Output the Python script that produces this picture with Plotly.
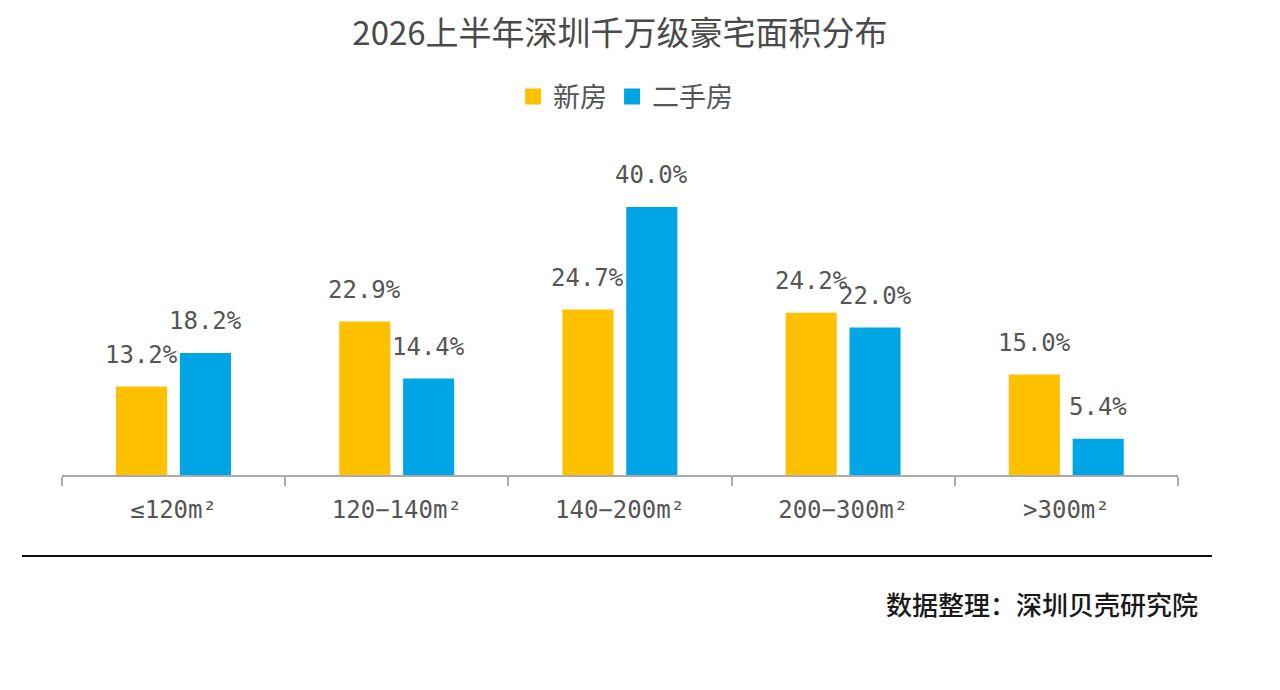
import plotly.graph_objects as go

categories = ["≤120m²", "120−140m²", "140−200m²", "200−300m²", ">300m²"]
new_home = [13.2, 22.9, 24.7, 24.2, 15.0]
second_hand = [18.2, 14.4, 40.0, 22.0, 5.4]
series_names = ["新房", "二手房"]
title_text = "2026上半年深圳千万级豪宅面积分布"
source_text = "数据整理：深圳贝壳研究院"

YELLOW = "#FFC000"
BLUE = "#00A5E6"
GREY = "#555555"
LABEL_FONT = "DejaVu Sans Mono"
CJK = "Noto Sans CJK SC"

BAR_W = 0.229
OFF_NEW = -0.258
OFF_OLD = 0.028

fig = go.Figure()
fig.add_trace(go.Bar(x=categories, y=new_home, name=series_names[0],
                     marker=dict(color=YELLOW, line=dict(width=0)),
                     width=BAR_W, offset=OFF_NEW, showlegend=False))
fig.add_trace(go.Bar(x=categories, y=second_hand, name=series_names[1],
                     marker=dict(color=BLUE, line=dict(width=0)),
                     width=BAR_W, offset=OFF_OLD, showlegend=False))
# legend entries with larger square swatches
for name, col in zip(series_names, (YELLOW, BLUE)):
    fig.add_trace(go.Scatter(x=[None], y=[None], mode="markers", name=name,
                             marker=dict(symbol="square", size=17, color=col),
                             showlegend=True))

annotations = []
for i, (a, b) in enumerate(zip(new_home, second_hand)):
    for v, off in ((a, OFF_NEW), (b, OFF_OLD)):
        annotations.append(dict(
            x=i + off + BAR_W / 2, y=v, xref="x", yref="y",
            text=f"{v:.1f}%", showarrow=False, yanchor="middle", yshift=32,
            font=dict(family=LABEL_FONT, size=24, color=GREY)))

annotations.append(dict(
    x=1.0197, y=-0.385, xref="paper", yref="paper", xanchor="right", yanchor="middle",
    text=source_text, showarrow=False,
    font=dict(family=CJK, size=26, color="#1a1a1a", weight=500)))

fig.update_layout(
    width=1280, height=690,
    margin=dict(l=62, r=102, t=140, b=215),
    paper_bgcolor="white", plot_bgcolor="white",
    barmode="group",
    title=dict(text=title_text, x=0.5, xref="paper", xanchor="center",
               y=1 - 33 / 690, yref="container", yanchor="middle",
               font=dict(family=CJK, size=33, color="#4a4a4a")),
    legend=dict(orientation="h", x=0.505, xanchor="center", y=1 - 97 / 690,
                yref="container", yanchor="middle",
                font=dict(family=CJK, size=27, color=GREY),
                traceorder="normal", itemsizing="trace"),
    xaxis=dict(type="category", tickson="boundaries", ticks="outside", ticklen=9,
               tickcolor="#AAAAAA", tickwidth=1.5,
               showline=True, linecolor="#AAAAAA", linewidth=1.5,
               showgrid=False, tickfont=dict(family=LABEL_FONT, size=24, color=GREY),
               ticklabelstandoff=12,
               range=[-0.5, 4.5], fixedrange=True),
    yaxis=dict(range=[0, 50], visible=False, showgrid=False, zeroline=False),
    annotations=annotations,
    shapes=[dict(type="line", xref="paper", yref="paper",
                 x0=(22 - 62) / 1116, x1=(1212 - 62) / 1116,
                 y0=(475 - 556) / 335, y1=(475 - 556) / 335,
                 line=dict(color="#111111", width=2))],
    showlegend=True,
)

fig.write_html("out.html")
